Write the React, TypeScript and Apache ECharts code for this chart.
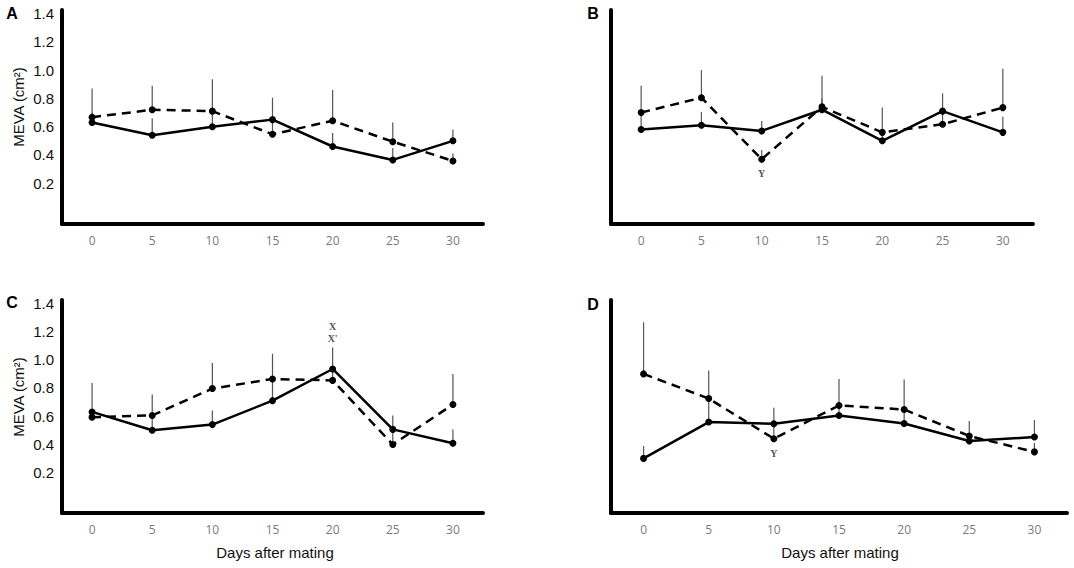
import React, { useEffect, useRef } from "react";
import * as echarts from "echarts";

const days = ["0", "5", "10", "15", "20", "25", "30"];
const yTickLabels = [0.2, 0.4, 0.6, 0.8, 1.0, 1.2, 1.4];

// Panel A
const aSolid = [0.63, 0.54, 0.6, 0.65, 0.46, 0.365, 0.5];
const aSolidTop = [0.7, 0.66, 0.7, 0.805, 0.555, 0.45, 0.58];
const aDashed = [0.667, 0.72, 0.71, 0.546, 0.642, 0.494, 0.358];
const aDashedTop = [0.87, 0.89, 0.935, 0.65, 0.86, 0.63, 0.41];

// Panel B
const bSolid = [0.58, 0.61, 0.57, 0.72, 0.5, 0.71, 0.56];
const bSolidTop = [0.68, 0.705, 0.64, 0.8, 0.55, 0.835, 0.67];
const bDashed = [0.7, 0.805, 0.37, 0.74, 0.56, 0.617, 0.735];
const bDashedTop = [0.89, 1.0, 0.435, 0.96, 0.735, 0.7, 1.01];

// Panel C
const cSolid = [0.63, 0.5, 0.54, 0.71, 0.935, 0.506, 0.407];
const cSolidTop = [0.836, 0.6, 0.64, 0.86, 1.088, 0.605, 0.506];
const cDashed = [0.593, 0.605, 0.796, 0.864, 0.854, 0.398, 0.683];
const cDashedTop = [0.63, 0.753, 0.977, 1.043, 0.93, 0.5, 0.9];

// Panel D
const dSolid = [0.3, 0.558, 0.546, 0.605, 0.548, 0.423, 0.452];
const dSolidTop = [0.388, 0.72, 0.66, 0.67, 0.64, 0.46, 0.572];
const dDashed = [0.9, 0.725, 0.44, 0.676, 0.647, 0.459, 0.346];
const dDashedTop = [1.267, 0.925, 0.54, 0.864, 0.86, 0.565, 0.41];

// Significance annotations
const annotations = [
  { panel: 1, day: 2, ref: "dashed", text: "Y", where: "bottom" },
  { panel: 2, day: 4, ref: "solidTop", text: "X\nX'", where: "top" },
  { panel: 3, day: 2, ref: "dashed", text: "Y", where: "bottom" },
];

const panelLetters = ["A", "B", "C", "D"];

const panels = [
  { solid: aSolid, solidTop: aSolidTop, dashed: aDashed, dashedTop: aDashedTop },
  { solid: bSolid, solidTop: bSolidTop, dashed: bDashed, dashedTop: bDashedTop },
  { solid: cSolid, solidTop: cSolidTop, dashed: cDashed, dashedTop: cDashedTop },
  { solid: dSolid, solidTop: dSolidTop, dashed: dDashed, dashedTop: dDashedTop },
];

const grids = [
  { left: 62, top: 10, width: 421, height: 214 },
  { left: 611, top: 10, width: 422, height: 214 },
  { left: 62, top: 300, width: 421, height: 213 },
  { left: 611, top: 300, width: 456, height: 213 },
];

const errRender = (params: any, api: any) => {
  const x = api.value(0);
  const p1 = api.coord([x, api.value(1)]);
  const p2 = api.coord([x, api.value(2)]);
  return {
    type: "line",
    shape: { x1: p1[0], y1: p1[1], x2: p2[0], y2: p2[1] },
    style: { stroke: "#555", lineWidth: 1.2 },
  };
};

export default function App() {
  const ref = useRef<HTMLDivElement>(null);
  useEffect(() => {
    if (!ref.current) return;
    const chart = echarts.init(ref.current, null, { renderer: "svg" });
    const xAxis: any[] = [];
    const yAxis: any[] = [];
    const series: any[] = [];
    panels.forEach((p, i) => {
      xAxis.push({
        type: "category",
        gridIndex: i,
        data: days,
        boundaryGap: true,
        axisLine: { show: true, onZero: false, lineStyle: { color: "#000", width: 4 } },
        axisTick: { show: false },
        axisLabel: {
          color: "#7a7a7a",
          fontFamily: "Open Sans",
          fontSize: 12,
          margin: 10,
        },
        splitLine: { show: false },
      });
      yAxis.push({
        type: "value",
        gridIndex: i,
        min: -0.088,
        max: 1.425,
        axisLine: { show: true, onZero: false, lineStyle: { color: "#000", width: 4 } },
        axisTick: { show: false },
        splitLine: { show: false },
        axisLabel: {
          show: i % 2 === 0,
          customValues: yTickLabels,
          formatter: (v: number) => v.toFixed(1),
          color: "#111",
          fontFamily: "Liberation Sans",
          fontSize: 15,
          margin: 8,
        },
      });
      series.push({
        type: "custom",
        name: "err-solid-" + i,
        xAxisIndex: i,
        yAxisIndex: i,
        renderItem: errRender,
        encode: { x: 0, y: [1, 2] },
        data: p.solid.map((v, k) => [k, v, p.solidTop[k]]),
        z: 1,
      });
      series.push({
        type: "custom",
        name: "err-dashed-" + i,
        xAxisIndex: i,
        yAxisIndex: i,
        renderItem: errRender,
        encode: { x: 0, y: [1, 2] },
        data: p.dashed.map((v, k) => [k, v, p.dashedTop[k]]),
        z: 1,
      });
      series.push({
        type: "line",
        name: "Group 1",
        xAxisIndex: i,
        yAxisIndex: i,
        data: p.solid,
        symbol: "circle",
        symbolSize: 7,
        itemStyle: { color: "#000" },
        lineStyle: { color: "#000", width: 2.5 },
        z: 3,
      });
      series.push({
        type: "line",
        name: "Group 2",
        xAxisIndex: i,
        yAxisIndex: i,
        data: p.dashed,
        symbol: "circle",
        symbolSize: 7,
        itemStyle: { color: "#000" },
        lineStyle: { color: "#000", width: 2.5, type: [9, 6] },
        z: 3,
      });
    });
    annotations.forEach((a) => {
      const p: any = panels[a.panel];
      const val = p[a.ref][a.day];
      series.push({
        type: "scatter",
        xAxisIndex: a.panel,
        yAxisIndex: a.panel,
        symbolSize: 1,
        itemStyle: { color: "rgba(0,0,0,0)" },
        data: [[a.day, val]],
        z: 4,
        label: {
          show: true,
          position: a.where,
          distance: a.where === "top" ? 2 : 8,
          formatter: a.text,
          fontFamily: "Liberation Serif",
          fontWeight: "bold",
          fontSize: 10,
          lineHeight: 12,
          color: "#222",
        },
      });
    });
    const graphic: any[] = [];
    const letterPos = [
      [12, 13],
      [593, 13],
      [12, 302],
      [593, 304],
    ];
    panelLetters.forEach((l, i) => {
      graphic.push({
        type: "text",
        x: letterPos[i][0],
        y: letterPos[i][1],
        style: {
          text: l,
          fontFamily: "Liberation Sans",
          fontWeight: "bold",
          fontSize: 16,
          fill: "#000",
          align: "center",
          verticalAlign: "middle",
        },
      });
    });
    [[18, 107], [18, 397]].forEach((pos) => {
      graphic.push({
        type: "text",
        x: pos[0],
        y: pos[1],
        rotation: Math.PI / 2,
        style: {
          text: "MEVA (cm²)",
          fontFamily: "Liberation Sans",
          fontSize: 15,
          fill: "#111",
          align: "center",
          verticalAlign: "middle",
        },
      });
    });
    [[275, 552], [840, 552]].forEach((pos) => {
      graphic.push({
        type: "text",
        x: pos[0],
        y: pos[1],
        style: {
          text: "Days after mating",
          fontFamily: "Liberation Sans",
          fontSize: 15,
          fill: "#111",
          align: "center",
          verticalAlign: "middle",
        },
      });
    });
    chart.setOption({
      animation: false,
      backgroundColor: "#fff",
      grid: grids,
      xAxis,
      yAxis,
      series,
      graphic,
    });
    return () => chart.dispose();
  }, []);
  return (
    <div
      ref={ref}
      style={{ position: "fixed", left: 0, top: 0, width: 1074, height: 568 }}
    />
  );
}
